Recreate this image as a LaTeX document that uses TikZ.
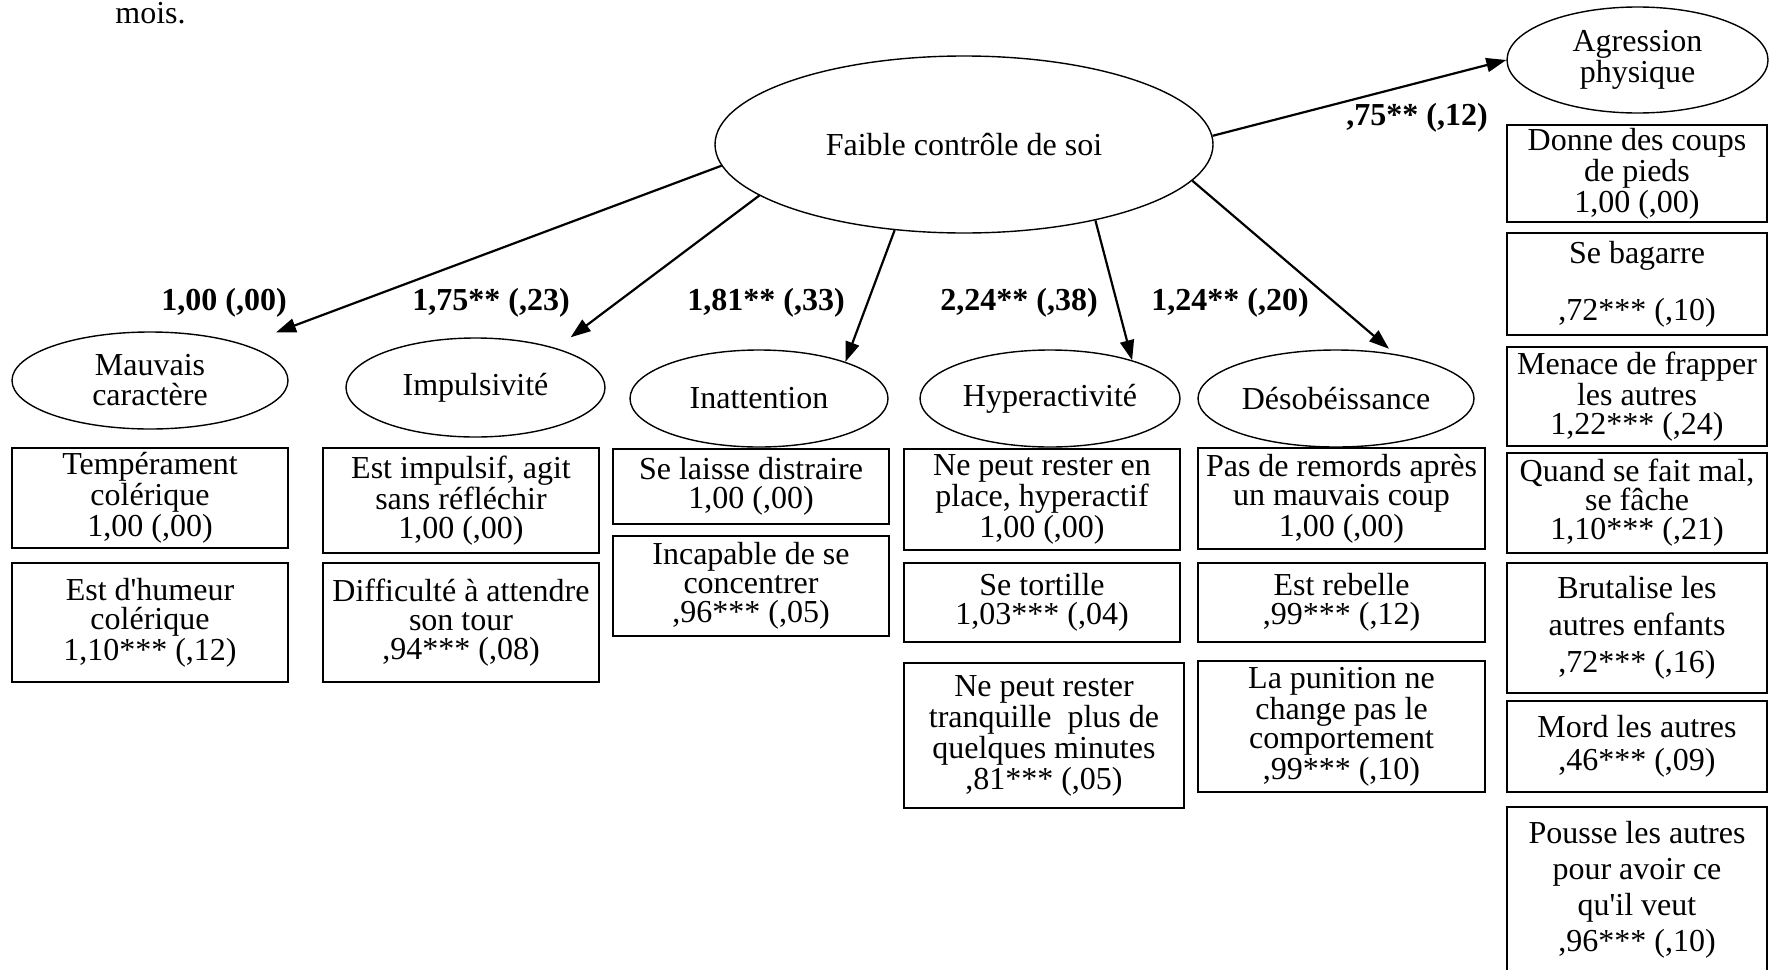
\documentclass[tikz,border=0pt]{standalone}
\usepackage{fontspec}
\setmainfont{Liberation Serif}
\usetikzlibrary{arrows.meta,shapes.geometric}
\tikzset{
  lat/.style={ellipse,draw,line width=0.7pt,inner sep=0pt,align=center,
    font=\fontsize{16}{15}\selectfont},                        % latent factor
  ind/.style={rectangle,draw,line width=0.9pt,inner sep=0pt,align=center,
    minimum width=138pt,font=\fontsize{16}{14.5}\selectfont},  % observed item
  load/.style={-{Triangle[length=10pt,width=7pt]},line width=1.1pt}, % loading path
  coef/.style={font=\fontsize{16}{18}\selectfont\bfseries,inner sep=0pt,anchor=base}, % estimate (SE)
}

\begin{document}
\begin{tikzpicture}[x=0.5pt,y=-0.5pt]
  \useasboundingbox (0,0) rectangle (1775,969);
  \node[anchor=base west,inner sep=0pt,font=\fontsize{16}{18}\selectfont] (cap) at (115,24) {mois.};
  % latent factors
  \node[lat,minimum width=249pt,minimum height=88.5pt] (fcs) at (964,144.5) {Faible contrôle de soi};
  \node[lat,minimum width=130.5pt,minimum height=53pt,font=\fontsize{16}{13.5}\selectfont] (agr) at (1637.5,60) {Agression\\physique};
  \node[lat,minimum width=138pt,minimum height=48.5pt] (mc) at (150,380.5) {Mauvais\\caractère};
  \node[lat,minimum width=129.5pt,minimum height=49.5pt] (imp) at (475.5,387.5) {Impulsivité};
  \node[lat,minimum width=129pt,minimum height=48.5pt] (ina) at (759,398.5) {Inattention};
  \node[lat,minimum width=130pt,minimum height=48.5pt] (hyp) at (1050,398.5) {Hyperactivité};
  \node[lat,minimum width=138pt,minimum height=48.5pt] (des) at (1336,398.5) {Désobéissance};
  % items, one column per factor
  \node[ind,minimum height=50pt] (c1a) at (150,498) {Tempérament\\colérique\\1,00 (,00)};
  \node[ind,minimum height=59.5pt] (c1b) at (150,622.5) {Est d\textquotesingle humeur\\colérique\\1,10*** (,12)};
  \node[ind,minimum height=52.5pt] (c2a) at (461,500.5) {Est impulsif, agit\\sans réfléchir\\1,00 (,00)};
  \node[ind,minimum height=59.5pt] (c2b) at (461,622.5) {Difficulté à attendre\\son tour\\,94*** (,08)};
  \node[ind,minimum height=37.5pt] (c3a) at (751,486.5) {Se laisse distraire\\1,00 (,00)};
  \node[ind,minimum height=50pt] (c3b) at (751,586) {Incapable de se\\concentrer\\,96*** (,05)};
  \node[ind,minimum height=50.5pt] (c4a) at (1042,499.5) {Ne peut rester en\\place, hyperactif\\1,00 (,00)};
  \node[ind,minimum height=39.5pt] (c4b) at (1042,602.5) {Se tortille\\1,03*** (,04)};
  \node[ind,minimum width=140pt,minimum height=72.5pt] (c4c) at (1044,735.5) {Ne peut rester\\tranquille\ \ plus de\\quelques minutes\\,81*** (,05)};
  \node[ind,minimum width=143.5pt,minimum height=50.5pt] (c5a) at (1341.5,498.5) {Pas de remords après\\un mauvais coup\\1,00 (,00)};
  \node[ind,minimum width=143.5pt,minimum height=39.5pt] (c5b) at (1341.5,602.5) {Est rebelle\\,99*** (,12)};
  \node[ind,minimum width=143.5pt,minimum height=65.5pt] (c5c) at (1341.5,726.5) {La punition ne\\change pas le\\comportement\\,99*** (,10)};
  \node[ind,minimum width=130pt,minimum height=48.5pt] (c6a) at (1637,173.5) {Donne des coups\\de pieds\\1,00 (,00)};
  \node[ind,minimum width=130pt,minimum height=51pt] (c6b) at (1637,284) {Se bagarre\\[13pt],72*** (,10)};
  \node[ind,minimum width=130pt,minimum height=49.5pt] (c6c) at (1637,396.5) {Menace de frapper\\les autres\\1,22*** (,24)};
  \node[ind,minimum width=130pt,minimum height=50pt] (c6d) at (1637,503) {Quand se fait mal,\\se fâche\\1,10*** (,21)};
  \node[ind,minimum width=130pt,minimum height=65pt,font=\fontsize{16}{18.5}\selectfont] (c6e) at (1637,628) {Brutalise les\\autres enfants\\,72*** (,16)};
  \node[ind,minimum width=130pt,minimum height=45.5pt,font=\fontsize{16}{16.7}\selectfont] (c6f) at (1637,746.5) {Mord les autres\\,46*** (,09)};
  \node[ind,minimum width=130pt,minimum height=83pt,font=\fontsize{16}{18}\selectfont] (c6g) at (1637,890) {Pousse les autres\\pour avoir ce\\qu\textquotesingle il veut\\,96*** (,10)};
  % loadings
  \foreach \a/\t/\b/\s in {185/mc/21/17,194/imp/26/9,231/ina/23/0,330/hyp/25/0,351/des/37/4}
    \draw[load,shorten >=\s pt] (fcs.\a) -- (\t.\b);
  \draw[load] (fcs.2) -- (agr.west);
  \node[coef] (w1) at (224,310) {1,00 (,00)};
  \node[coef] (w2) at (491,310) {1,75** (,23)};
  \node[coef] (w3) at (766,310) {1,81** (,33)};
  \node[coef] (w4) at (1019,310) {2,24** (,38)};
  \node[coef] (w5) at (1230,310) {1,24** (,20)};
  \node[coef] (w6) at (1417,125) {,75** (,12)};
\end{tikzpicture}
\end{document}
